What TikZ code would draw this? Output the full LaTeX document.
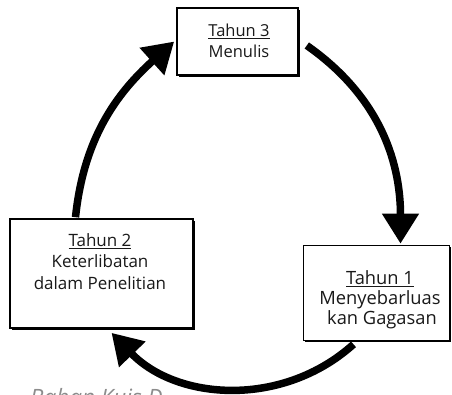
\documentclass[tikz,border=0pt]{standalone}
\usepackage{fontspec}
\setmainfont{Open Sans}
\usetikzlibrary{arrows.meta,shadows,calc}
\begin{document}
\begin{tikzpicture}[x=1pt,y=-1pt,
  box/.style={draw=black,fill=white,line width=1.6pt,rectangle,inner sep=0pt,
    drop shadow={shadow xshift=1.8pt,shadow yshift=-1.8pt,fill=black,opacity=1}},
  txt/.style={anchor=base,inner sep=0pt,text=black!90},
  sthree/.style={txt,font=\fontsize{16.5}{20}\selectfont},
  stwo/.style={txt,font=\fontsize{17}{20}\selectfont},
  sone/.style={txt,font=\fontsize{18.3}{22}\selectfont},
  flow/.style={line width=7.5pt,-{Triangle[length=30pt,width=35pt]}}]
\useasboundingbox (0,0) rectangle (452,394);
\fill[white] (0,0) rectangle (452,394);
\node[anchor=north west,inner sep=0pt,text=black!45,font=\itshape\fontsize{22.5}{26}\selectfont] (src) at (30,388) {Bahan Kuis D};
\node[box,minimum width=121pt,minimum height=67pt] (b3) at (237.5,41.5) {};
\node[box,minimum width=183pt,minimum height=109pt] (b2) at (101.5,273.5) {};
\node[box,minimum width=146pt,minimum height=95pt] (b1) at (376.5,293) {};
% box 3 texts
\node[sthree] (t3a) at ($(b3.north)+(1.5,29)$) {\underline{Tahun 3}};
\node[sthree] (t3b) at ($(b3.north)+(1.5,50)$) {Menulis};
% box 2 texts
\node[stwo] (t2a) at ($(b2.north)+(-1.5,28)$) {\underline{Tahun 2}};
\node[stwo] (t2b) at ($(b2.north)+(-1.5,49)$) {Keterlibatan};
\node[stwo] (t2c) at ($(b2.north)+(-1.5,71)$) {dalam Penelitian};
% box 1 texts
\node[sone] (t1a) at ($(b1.north)+(3.5,39.5)$) {\underline{Tahun 1}};
\node[sone] (t1b) at ($(b1.north)+(3.5,59.5)$) {Menyebarluas};
\node[sone] (t1c) at ($(b1.north)+(5.5,79.5)$) {kan Gagasan};
\draw[flow] ([xshift=8pt,yshift=-4pt]b3.east) to[out=-35,in=90] ([xshift=24pt,yshift=1pt]b1.north);
\draw[flow] ([xshift=-23pt,yshift=-3pt]b1.south) to[out=222,in=-46] ([xshift=10pt,yshift=-4pt]b2.south);
\draw[flow] ([xshift=-26pt,yshift=1pt]b2.north) to[out=84,in=222] ([xshift=-2pt]b3.west);
\end{tikzpicture}
\end{document}
